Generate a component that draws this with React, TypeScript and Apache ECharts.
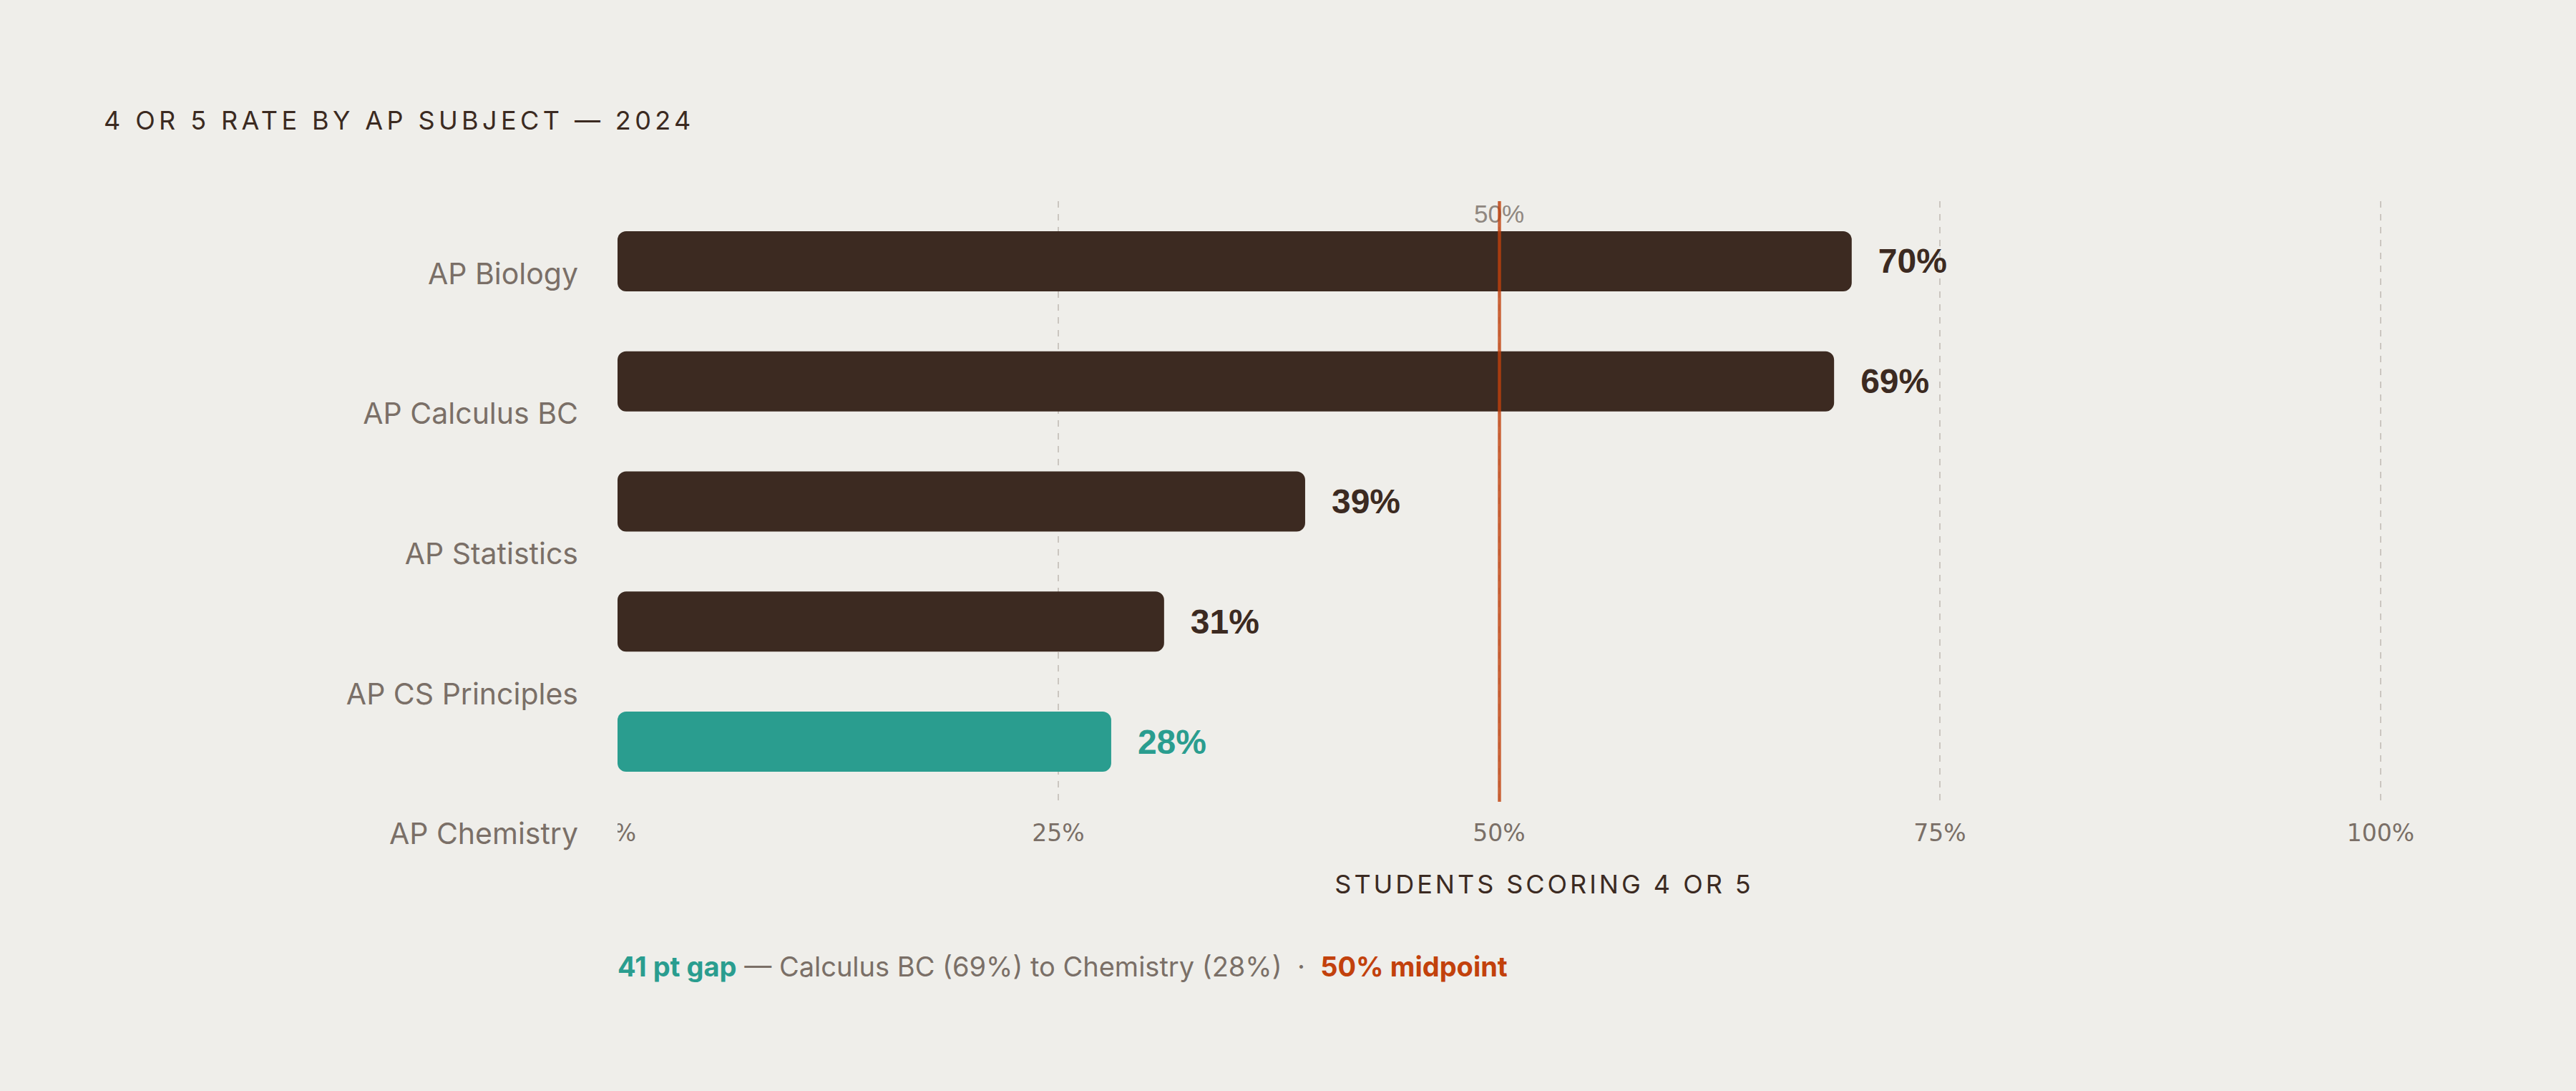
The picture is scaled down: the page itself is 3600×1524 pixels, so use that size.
import React, { useEffect, useRef } from "react";
import * as echarts from "echarts";

// data
const subjects = ["AP Biology", "AP Calculus BC", "AP Statistics", "AP CS Principles", "AP Chemistry"];
const rates = [70, 69, 39, 31, 28];
const highlight = "AP Chemistry";
const gapFrom = "AP Calculus BC";
const midpoint = 50;
const xTickStep = 25;

const BG = "#efeeea";
const INK = "#3c2a21";
const TITLE_INK = "#3b2a21"; // letter-spaced through css below
const NAME_INK = "#3b2a22"; // letter-spaced through css below
const MUTED = "#7a6f67";
const TEAL = "#2a9d8f";
const RUST = "#c2410c";

const short = (s: string) => s.replace(/^AP /, "");

const App: React.FC = () => {
  const chartRef = useRef<HTMLDivElement>(null);

  useEffect(() => {
    document.body.style.margin = "0";
    document.body.style.background = BG;
    if (!chartRef.current) return;
    const chart = echarts.init(chartRef.current, null, { renderer: "svg" });

    const hi = subjects.indexOf(highlight);
    const from = subjects.indexOf(gapFrom);
    const gap = rates[from] - rates[hi];

    chart.setOption({
      animation: false,
      backgroundColor: BG,
      title: {
        text: "4 OR 5 RATE BY AP SUBJECT — 2024",
        left: 145,
        top: 150,
        padding: 0,
        textStyle: { fontFamily: "Inter", fontSize: 36, fontWeight: 400, color: TITLE_INK },
      },
      grid: [
        { left: 863, right: 273, top: 281, height: 839 },
        { left: 863, right: 273, top: 284, height: 978 },
      ],
      xAxis: [
        {
          gridIndex: 0,
          type: "value",
          min: 0,
          max: 100,
          interval: xTickStep,
          axisLine: { show: false },
          axisTick: { show: false },
          axisLabel: {
            formatter: "{value}%",
            fontFamily: "DejaVu Sans",
            fontSize: 33,
            color: MUTED,
            margin: 27,
          },
          splitLine: {
            show: true,
            showMinLine: false,
            lineStyle: { color: "#cbc6c0", width: 2, type: [9, 9] },
          },
        },
        { gridIndex: 1, type: "value", min: 0, max: 100, show: false },
      ],
      yAxis: [
        {
          gridIndex: 0,
          type: "category",
          data: subjects,
          inverse: true,
          axisLine: { show: false },
          axisTick: { show: false },
          axisLabel: { show: false },
        },
        {
          gridIndex: 1,
          type: "category",
          data: subjects,
          inverse: true,
          axisLine: { show: false },
          axisTick: { show: false },
          axisLabel: { fontFamily: "Inter", fontSize: 41, color: MUTED, margin: 55 },
        },
      ],
      series: [
        {
          type: "bar",
          xAxisIndex: 0,
          yAxisIndex: 0,
          barWidth: 84,
          itemStyle: { borderRadius: 12 },
          data: rates.map((v, i) => {
            const c = i === hi ? TEAL : INK;
            return { value: v, itemStyle: { color: c }, label: { color: c } };
          }),
          label: {
            show: true,
            position: "right",
            distance: 37,
            formatter: "{c}%",
            fontFamily: "Liberation Sans",
            fontWeight: "bold",
            fontSize: 48,
          },
          markLine: {
            silent: true,
            symbol: "none",
            label: { show: false },
            lineStyle: { color: RUST, width: 4.5, type: "solid", opacity: 0.8 },
            data: [{ xAxis: midpoint }],
          },
        },
      ],
    });

    const x0 = chart.convertToPixel({ xAxisIndex: 0 }, 0) as number;
    const xMid = chart.convertToPixel({ xAxisIndex: 0 }, midpoint) as number;
    const yFirst = chart.convertToPixel({ yAxisIndex: 0 }, subjects[0]) as number;

    chart.setOption({
      graphic: [
        {
          type: "text",
          x: xMid,
          y: yFirst - 66,
          z: 1,
          style: {
            text: `${midpoint}%`,
            fontFamily: "Liberation Sans",
            fontSize: 35,
            fill: "#8f8780",
            align: "center",
            verticalAlign: "middle",
          },
        },
        {
          // hides the left half of the 0% tick label, as in the source
          type: "rect",
          z: 100,
          shape: { x: x0 - 50, y: 1138, width: 50, height: 50 },
          style: { fill: BG },
        },
        {
          type: "text",
          x: xMid + 63,
          y: 1235,
          style: {
            text: "STUDENTS SCORING 4 OR 5",
            fontFamily: "Inter",
            fontSize: 36,
            fill: NAME_INK,
            align: "center",
            verticalAlign: "middle",
          },
        },
        {
          type: "text",
          x: x0,
          y: 1350,
          style: {
            text:
              `{a|${gap} pt gap}{b| — ${short(gapFrom)} (${rates[from]}%) to ${short(highlight)} (${rates[hi]}%)  ·  }` +
              `{c|${midpoint}% midpoint}`,
            align: "left",
            verticalAlign: "middle",
            rich: {
              a: { fontFamily: "Inter", fontSize: 38, fontWeight: "bold", fill: TEAL, color: TEAL },
              b: { fontFamily: "Inter", fontSize: 38, fill: MUTED, color: MUTED },
              c: { fontFamily: "Inter", fontSize: 38, fontWeight: "bold", fill: RUST, color: RUST },
            },
          },
        },
      ],
    });

    return () => chart.dispose();
  }, []);

  return (
    <>
      <style>{`
        .ap-chart text[fill="${TITLE_INK}"] { letter-spacing: 0.15em; }
        .ap-chart text[fill="${NAME_INK}"] { letter-spacing: 0.11em; }
      `}</style>
      <div ref={chartRef} className="ap-chart" style={{ width: 3600, height: 1524 }} />
    </>
  );
};

export default App;
